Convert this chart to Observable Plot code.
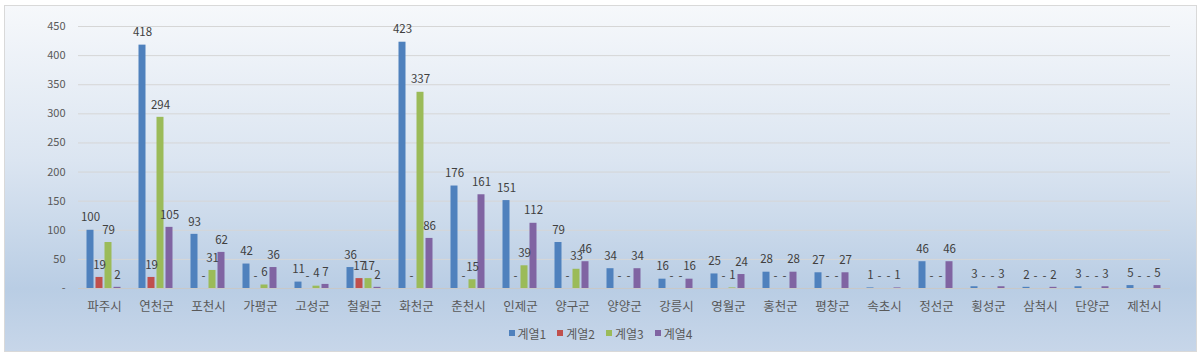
<!DOCTYPE html>
<html><head><meta charset="utf-8">
<script src="https://cdn.jsdelivr.net/npm/d3@7"></script>
<script src="https://cdn.jsdelivr.net/npm/@observablehq/plot@0.6"></script>
<style>
body{margin:0;background:#fff;font-family:"Noto Sans CJK KR","Noto Sans",sans-serif;}
#chart{position:absolute;left:4px;top:5px;width:1193px;height:347px;box-sizing:border-box;border:1px solid #d9d9d9;
background:linear-gradient(to bottom,#f6f8fb 0%,#dbe5f1 45%,#b9cde4 82%,#c7d6e9 100%);}
#legend{height:33px;display:flex;justify-content:center;align-items:center;padding-bottom:3px;box-sizing:border-box;font-size:12px;color:#595959;}
.item{display:flex;align-items:center;margin:0 5.5px;}
.sw{width:6px;height:6px;margin-right:3px;}
svg{display:block;}
</style></head>
<body>
<div id="chart"><div id="plot"></div><div id="legend"></div></div>
<script>
const categories = ["파주시","연천군","포천시","가평군","고성군","철원군","화천군","춘천시","인제군","양구군","양양군","강릉시","영월군","홍천군","평창군","속초시","정선군","횡성군","삼척시","단양군","제천시"];
const seriesNames = ["계열1","계열2","계열3","계열4"];
const series1 = [100,418,93,42,11,36,423,176,151,79,34,16,25,28,27,1,46,3,2,3,5];
const series2 = [19,19,0,0,0,17,0,0,0,0,0,0,0,0,0,0,0,0,0,0,0];
const series3 = [79,294,31,6,4,17,337,15,39,33,0,0,1,0,0,0,0,0,0,0,0];
const series4 = [2,105,62,36,7,2,86,161,112,46,34,16,24,28,27,1,46,3,2,3,5];
const colors = ["#4f81bd","#c0504d","#9bbb59","#8064a2"];
const yTicks = [0,50,100,150,200,250,300,350,400,450];

const allSeries = [series1, series2, series3, series4];
const rows = [];
categories.forEach((c, i) => {
  seriesNames.forEach((s, j) => rows.push({category: c, series: s, value: allSeries[j][i]}));
});

const font = '"Noto Sans CJK KR","Noto Sans",sans-serif';
const chart = Plot.plot({
  width: 1191, height: 312,
  marginLeft: 68.5, marginRight: 22, marginTop: 20, marginBottom: 30,
  style: {background: "transparent", fontFamily: font, fontSize: "11px", color: "#595959"},
  fx: {domain: categories, padding: 0, label: null},
  x: {domain: seriesNames, axis: null, paddingInner: 0.2, paddingOuter: 0.92},
  y: {domain: [0, 450], label: null},
  color: {domain: seriesNames, range: colors},
  marks: [
    Plot.gridY(yTicks, {stroke: "#d6d6d6", strokeOpacity: 1}),
    Plot.axisY(yTicks, {tickSize: 0, tickPadding: 13, label: null, fontSize: 11, fill: "#595959",
      tickFormat: d => d === 0 ? "-" : d}),
    Plot.axisFx({anchor: "bottom", tickSize: 0, tickPadding: 14, label: null, fontSize: 12.5, fill: "#595959"}),
    Plot.ruleY([0], {stroke: "#c8c8c8"}),
    Plot.barY(rows, {fx: "category", x: "series", y: "value", fill: "series"}),
    Plot.text(rows, {fx: "category", x: "series", y: "value", dy: -12.5, fill: "#404040", fontSize: 11.5,
      text: d => d.value === 0 ? "-" : String(d.value)})
  ]
});
document.getElementById("plot").appendChild(chart);

const legend = document.getElementById("legend");
seriesNames.forEach((s, j) => {
  const it = document.createElement("div");
  it.className = "item";
  const sw = document.createElement("span");
  sw.className = "sw";
  sw.style.background = colors[j];
  const tx = document.createElement("span");
  tx.textContent = s;
  it.appendChild(sw); it.appendChild(tx);
  legend.appendChild(it);
});
</script>
</body></html>
